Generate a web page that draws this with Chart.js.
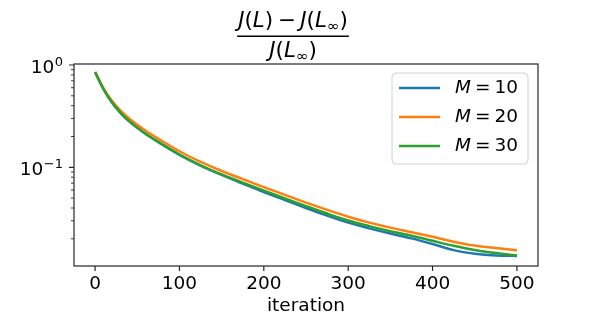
<!DOCTYPE html>
<html lang="en">
<head>
<meta charset="utf-8">
<title>Relative objective gap</title>
<script src="https://cdn.jsdelivr.net/npm/chart.js"></script>
<style>
  body { margin: 0; background: #fff; }
</style>
</head>
<body>
<canvas id="gapChart" width="598" height="326"></canvas>
<script>
// values (log scale)
const iterations = [0, 10, 20, 30, 40, 50, 60, 75, 100, 125, 150, 175, 200, 225, 250, 275, 300, 325, 350, 375, 400, 425, 450, 475, 500];
const gapM10 = [0.851, 0.580, 0.430, 0.341, 0.283, 0.243, 0.2115, 0.176, 0.1325, 0.104, 0.0843, 0.0692, 0.0571, 0.0479, 0.0400, 0.0337, 0.0288, 0.0253, 0.0225, 0.0202, 0.0178, 0.0155, 0.0143, 0.01374, 0.0136];
const gapM20 = [0.851, 0.592, 0.447, 0.3605, 0.302, 0.260, 0.2275, 0.190, 0.1435, 0.1127, 0.0920, 0.0767, 0.0641, 0.0537, 0.0452, 0.0384, 0.0329, 0.0288, 0.0257, 0.0232, 0.0209, 0.01875, 0.01718, 0.01622, 0.01542];
const gapM30 = [0.851, 0.582, 0.4315, 0.343, 0.285, 0.2443, 0.2128, 0.177, 0.1334, 0.1047, 0.0851, 0.0708, 0.0592, 0.0495, 0.0417, 0.0353, 0.0302, 0.0266, 0.0237, 0.0214, 0.0191, 0.0171, 0.01556, 0.01452, 0.01374];

const seriesNames = ['M', 'M', 'M'];
const seriesM = ['10', '20', '30'];
const seriesColors = ['#1f77b4', '#ff7f0e', '#2ca02c'];

const xTicks = [0, 100, 200, 300, 400, 500];
const yMajorTicks = [0.1, 1];
const yMinorTicks = [0.02, 0.03, 0.04, 0.05, 0.06, 0.07, 0.08, 0.09, 0.2, 0.3, 0.4, 0.5, 0.6, 0.7, 0.8, 0.9];
const yTickExp = ['\u22121', '0'];  // exponents for 10^-1, 10^0

const FONT = "'DejaVu Sans', sans-serif";
const TICK_SIZE = 18.5;

// tick marks, y tick labels and spines, like matplotlib
const axesFrame = {
    id: 'axesFrame',
    afterDraw(chart) {
        const { ctx, chartArea: a, scales } = chart;
        ctx.save();
        ctx.strokeStyle = '#262626';
        ctx.lineWidth = 1.2;
        ctx.beginPath();
        xTicks.forEach(v => {
            const x = scales.x.getPixelForValue(v);
            ctx.moveTo(x, a.bottom);
            ctx.lineTo(x, a.bottom + 5);
        });
        yMajorTicks.forEach(v => {
            const y = scales.y.getPixelForValue(v);
            ctx.moveTo(a.left, y);
            ctx.lineTo(a.left - 5, y);
        });
        ctx.stroke();
        ctx.lineWidth = 0.9;
        ctx.beginPath();
        yMinorTicks.forEach(v => {
            const y = scales.y.getPixelForValue(v);
            ctx.moveTo(a.left, y);
            ctx.lineTo(a.left - 3, y);
        });
        ctx.stroke();
        ctx.lineWidth = 1.2;
        ctx.strokeRect(a.left, a.top, a.right - a.left, a.bottom - a.top);

        // 10^k labels with a real superscript
        ctx.fillStyle = '#000';
        ctx.textAlign = 'right';
        ctx.textBaseline = 'alphabetic';
        const right = a.left - 11;
        yMajorTicks.forEach((v, i) => {
            const y = scales.y.getPixelForValue(v);
            ctx.font = '13px ' + FONT;
            const ew = ctx.measureText(yTickExp[i]).width;
            ctx.fillText(yTickExp[i], right, y + 1);
            ctx.font = TICK_SIZE + 'px ' + FONT;
            ctx.fillText('10', right - ew - 0.5, y + 7.5);
        });
        ctx.restore();
    }
};

// legend box in the upper right corner
const cornerLegend = {
    id: 'cornerLegend',
    afterDraw(chart) {
        const { ctx } = chart;
        const bx = 392, by = 73, bw = 136, bh = 91, r = 4;
        ctx.save();
        ctx.beginPath();
        ctx.roundRect(bx, by, bw, bh, r);
        ctx.fillStyle = 'rgba(255,255,255,0.8)';
        ctx.fill();
        ctx.strokeStyle = '#d0d0d0';
        ctx.lineWidth = 1;
        ctx.stroke();
        ctx.textBaseline = 'middle';
        chart.data.datasets.forEach((ds, i) => {
            const y = 88 + i * 29;
            ctx.strokeStyle = ds.borderColor;
            ctx.lineWidth = 2.5;
            ctx.beginPath();
            ctx.moveTo(399, y);
            ctx.lineTo(440, y);
            ctx.stroke();
            ctx.fillStyle = '#000';
            let x = 455;
            ctx.font = 'italic ' + TICK_SIZE + 'px ' + FONT;
            ctx.fillText(seriesNames[i], x, y);
            x += ctx.measureText(seriesNames[i]).width + 4;
            ctx.font = TICK_SIZE + 'px ' + FONT;
            ctx.fillText('=', x, y);
            x += ctx.measureText('=').width + 4;
            ctx.fillText(seriesM[i], x, y);
        });
        ctx.restore();
    }
};

// fraction title J(L) - J(L_inf) over J(L_inf)
function drawRow(ctx, segs, cx, baseline, size) {
    const fontFor = s => (s.it ? 'italic ' : '') + (s.sub ? size * 0.7 : size) + 'px ' + FONT;
    let total = 0;
    segs.forEach(s => { ctx.font = fontFor(s); s.w = ctx.measureText(s.t).width + (s.gap || 0) * 2; total += s.w; });
    let x = cx - total / 2;
    segs.forEach(s => {
        ctx.font = fontFor(s);
        ctx.fillText(s.t, x + (s.gap || 0), baseline + (s.sub ? size * 0.2 : 0));
        x += s.w;
    });
    return total;
}
const fractionTitle = {
    id: 'fractionTitle',
    afterDraw(chart) {
        const { ctx } = chart;
        const cx = 293, size = 21.5;
        ctx.save();
        ctx.fillStyle = '#000';
        ctx.textBaseline = 'alphabetic';
        const num = [
            { t: 'J', it: true }, { t: '(' }, { t: 'L', it: true }, { t: ')' },
            { t: '\u2212', gap: 4.5 }, { t: 'J', it: true }, { t: '(' }, { t: 'L', it: true },
            { t: '\u221E', sub: true }, { t: ')' }
        ];
        const den = [
            { t: 'J', it: true }, { t: '(' }, { t: 'L', it: true },
            { t: '\u221E', sub: true }, { t: ')' }
        ];
        const w = drawRow(ctx, num, cx, 27, size);
        drawRow(ctx, den, cx, 56.5, size);
        ctx.fillRect(cx - w / 2 - 1, 35.5, w + 2, 1.5);
        ctx.restore();
    }
};

const ctx = document.getElementById('gapChart').getContext('2d');
const seriesValues = [gapM10, gapM20, gapM30];

new Chart(ctx, {
    type: 'line',
    data: {
        labels: iterations,
        datasets: seriesValues.map((vals, i) => ({
            label: seriesNames[i] + ' = ' + seriesM[i],
            data: iterations.map((it, k) => ({ x: it, y: vals[k] })),
            borderColor: seriesColors[i],
            backgroundColor: seriesColors[i],
            borderWidth: 2.5,
            pointRadius: 0,
            fill: false,
            cubicInterpolationMode: 'monotone',
            order: 3 - i
        }))
    },
    options: {
        responsive: false,
        animation: false,
        devicePixelRatio: 1,
        layout: { padding: { left: 0, right: 60, top: 64, bottom: 0 } },
        plugins: {
            legend: { display: false },
            title: { display: false },
            tooltip: { enabled: false }
        },
        scales: {
            x: {
                type: 'linear',
                min: -25,
                max: 525,
                afterBuildTicks: s => { s.ticks = xTicks.map(v => ({ value: v })); },
                afterFit: s => { s.height = 60; },
                grid: { display: false, drawTicks: false },
                border: { display: false },
                ticks: {
                    color: '#000',
                    font: { family: FONT, size: TICK_SIZE },
                    padding: 7,
                    maxRotation: 0,
                    autoSkip: false
                },
                title: {
                    display: true,
                    text: 'iteration',
                    color: '#000',
                    font: { family: FONT, size: TICK_SIZE },
                    padding: { top: 0, bottom: 9 }
                }
            },
            y: {
                type: 'logarithmic',
                min: 0.01084,
                max: 1.023,
                afterBuildTicks: s => {
                    s.ticks = yMinorTicks.concat(yMajorTicks).sort((a, b) => a - b).map(v => ({ value: v }));
                },
                afterFit: s => { s.width = 74; },
                grid: { display: false, drawTicks: false },
                border: { display: false },
                ticks: { display: false }
            }
        }
    },
    plugins: [axesFrame, cornerLegend, fractionTitle]
});
</script>
</body>
</html>
